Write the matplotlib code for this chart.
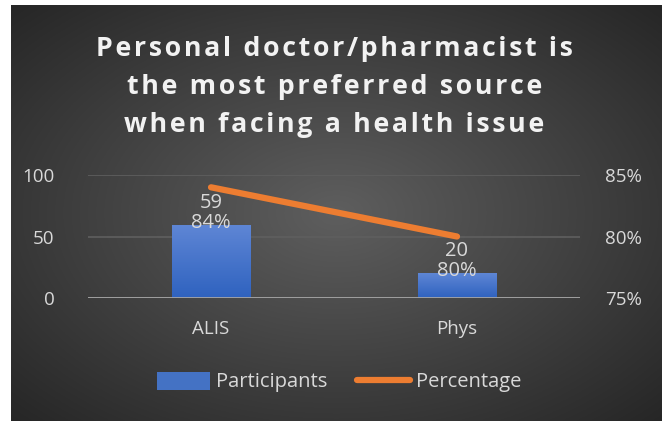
import numpy as np
import matplotlib.pyplot as plt
from matplotlib.lines import Line2D
from matplotlib.patches import Patch

# data
categories = ["ALIS", "Phys"]
participants = [59, 20]
percentage = [0.84, 0.80]
title_lines = ["Personal doctor/pharmacist is",
               "the most preferred source",
               "when facing a health issue"]

txt = "#d9d9d9"
plt.rcParams['font.family'] = ['Open Sans', 'DejaVu Sans']

fig = plt.figure(figsize=(6.65, 4.21), dpi=100)
fig.patch.set_facecolor("white")

# radial gradient background
bg = fig.add_axes([11/665, 0, 651/665, 1 - 5/421])
yy, xx = np.mgrid[-1:1:300j, -1:1:400j]
r = np.sqrt(xx**2 + yy**2) / np.sqrt(2)
grad = 0.37 - 0.22 * r
bg.imshow(np.dstack([grad, grad, grad]), aspect="auto", extent=[0, 1, 0, 1])
bg.set_axis_off()

# title with a bit of letter spacing (hair spaces)
title = "\n".join("\u200a".join(line) for line in title_lines)
fig.text(0.503, 1 - 87/421, title, ha="center", va="center", color="#f2f2f2",
         fontsize=19.3, fontweight="bold", linespacing=1.62)

ax = fig.add_axes([88/665, 1 - 298/421, 492/665, 123/421])
ax.set_facecolor("none")
x = np.arange(len(categories))
bw = 0.32
bars = ax.bar(x, participants, width=bw, color="#4472c4", zorder=2)

# blue gradient on each bar
g = np.linspace(0, 1, 100).reshape(-1, 1)
c_top = np.array([0x5e, 0x86, 0xd5]) / 255
c_bot = np.array([0x2f, 0x62, 0xbf]) / 255
img = c_bot[None, None, :] * (1 - g[..., None]) + c_top[None, None, :] * g[..., None]
for b in bars:
    x0, w, h = b.get_x(), b.get_width(), b.get_height()
    b.set_visible(False)
    ax.imshow(img, extent=[x0, x0 + w, 0, h], origin="lower", aspect="auto", zorder=2)

ax.set_xlim(-0.5, 1.5)
ax.set_ylim(0, 100)
ax.set_yticks([0, 50, 100])
ax.set_xticks(x)
ax.set_xticklabels(categories)
ax.grid(axis="y", color="#5f5f5f", lw=1.2, zorder=0)
ax.axhline(0, color="#a6a6a6", lw=2, zorder=3)
for s in ax.spines.values():
    s.set_visible(False)
ax.tick_params(length=0, colors=txt, labelsize=13.5)
ax.tick_params(axis="y", pad=24)
ax.tick_params(axis="x", pad=16)

ax2 = ax.twinx()
ax2.plot(x, percentage, color="#ed7d31", lw=4.5, solid_capstyle="round", zorder=4)
ax2.set_ylim(0.75, 0.85)
ax2.set_yticks([0.75, 0.80, 0.85])
ax2.set_yticklabels(["75%", "80%", "85%"])
for s in ax2.spines.values():
    s.set_visible(False)
ax2.tick_params(length=0, colors=txt, labelsize=13.5, pad=18)

for xi, p, pc in zip(x, participants, percentage):
    ax.text(xi, p - 6, f"{p}\n{pc:.0%}", ha="center", va="bottom", color=txt,
            fontsize=14.5, linespacing=0.98, zorder=5)

handles = [Patch(facecolor="#4472c4", edgecolor="none"),
           Line2D([0], [0], color="#ed7d31", lw=4.5, solid_capstyle="round")]
leg = fig.legend(handles, ["Participants", "Percentage"], loc="center",
                 bbox_to_anchor=(0.51, 1 - 382/421), ncol=2, frameon=False,
                 fontsize=14.5, labelcolor=txt, handlelength=2.6, handleheight=1.0,
                 handletextpad=0.3, columnspacing=1.5)

fig.savefig("out.png", dpi=100, facecolor=fig.get_facecolor())
